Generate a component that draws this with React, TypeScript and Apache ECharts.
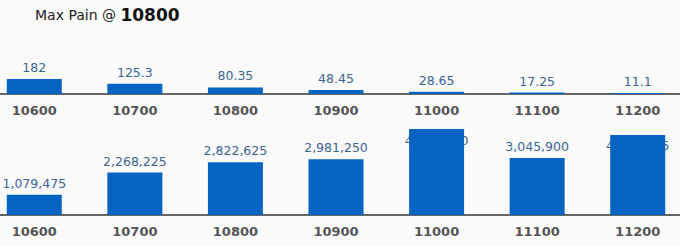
import React, { useEffect, useRef } from "react";
import * as echarts from "echarts";

const strikes = ["10600", "10700", "10800", "10900", "11000", "11100", "11200"];
const premiumValues = [182, 125.3, 80.35, 48.45, 28.65, 17.25, 11.1];
const painValues = [1079475, 2268225, 2822625, 2981250, 4600950, 3045900, 4284375];
const maxPainStrike = "10800";

const BAR = "#0563c1";
const LABEL = "#3d6592";
const AXIS_TXT = "#555555";
const FONT = "DejaVu Sans";

export default function App() {
  const ref = useRef<HTMLDivElement>(null);
  useEffect(() => {
    if (!ref.current) return;
    const chart = echarts.init(ref.current, undefined, { renderer: "svg" });
    const painCap = 3300000;
    const fmt = (v: number) => v.toLocaleString("en-US");
    const axisCommon = {
      type: "category" as const,
      data: strikes,
      axisTick: { show: false },
      axisLine: { lineStyle: { color: "#666666", width: 2 } },
      axisLabel: {
        color: AXIS_TXT,
        fontFamily: FONT,
        fontWeight: "bold" as const,
        fontSize: 13,
        margin: 10,
      },
    };
    chart.setOption({
      animation: false,
      backgroundColor: "#fbfbfb",
      title: {
        left: 46,
        top: 1,
        text: "{a|Max Pain @ }{b|" + maxPainStrike + "}",
        textStyle: {
          fontWeight: "normal",
          rich: {
            a: { fontFamily: FONT, fontSize: 14, fontWeight: "normal", color: "#222222" },
            b: { fontFamily: FONT, fontSize: 17, fontWeight: "bold", color: "#111111" },
          },
        },
      },
      grid: [
        { left: 0, right: 0, top: 45, height: 49 },
        { left: 0, right: 0, top: 125, height: 90 },
      ],
      xAxis: [
        { ...axisCommon, gridIndex: 0 },
        { ...axisCommon, gridIndex: 1 },
      ],
      yAxis: [
        { type: "value", gridIndex: 0, min: 0, max: 595, show: false, splitLine: { show: false } },
        { type: "value", gridIndex: 1, min: 0, max: 4815000, show: false, splitLine: { show: false } },
      ],
      series: [
        {
          type: "bar",
          xAxisIndex: 0,
          yAxisIndex: 0,
          data: premiumValues,
          barWidth: 55,
          itemStyle: { color: BAR },
          label: {
            show: true,
            position: "top",
            distance: 5,
            color: LABEL,
            fontFamily: FONT,
            fontSize: 12.5,
            formatter: (p: any) => String(p.value),
          },
        },
        {
          type: "bar",
          xAxisIndex: 1,
          yAxisIndex: 1,
          z: 1,
          barWidth: 55,
          barGap: "-100%",
          itemStyle: { color: "rgba(0,0,0,0)" },
          data: painValues.map((v) =>
            v > painCap
              ? { value: v, label: { position: "insideTop", distance: 4.5 } }
              : { value: v }
          ),
          label: {
            show: true,
            position: "top",
            distance: 5,
            color: LABEL,
            fontFamily: FONT,
            fontSize: 12.5,
            formatter: (p: any) => fmt(p.value),
          },
        },
        {
          type: "bar",
          xAxisIndex: 1,
          yAxisIndex: 1,
          z: 3,
          barWidth: 55,
          barGap: "-100%",
          itemStyle: { color: BAR },
          data: painValues,
        },
      ],
    });
    return () => chart.dispose();
  }, []);
  return (
    <div
      style={{
        position: "fixed",
        left: 0,
        top: 0,
        width: 680,
        height: 246,
        overflow: "hidden",
        background: "#fbfbfb",
      }}
    >
      <div
        ref={ref}
        style={{ position: "absolute", left: -16, top: 0, width: 704, height: 246 }}
      />
    </div>
  );
}
